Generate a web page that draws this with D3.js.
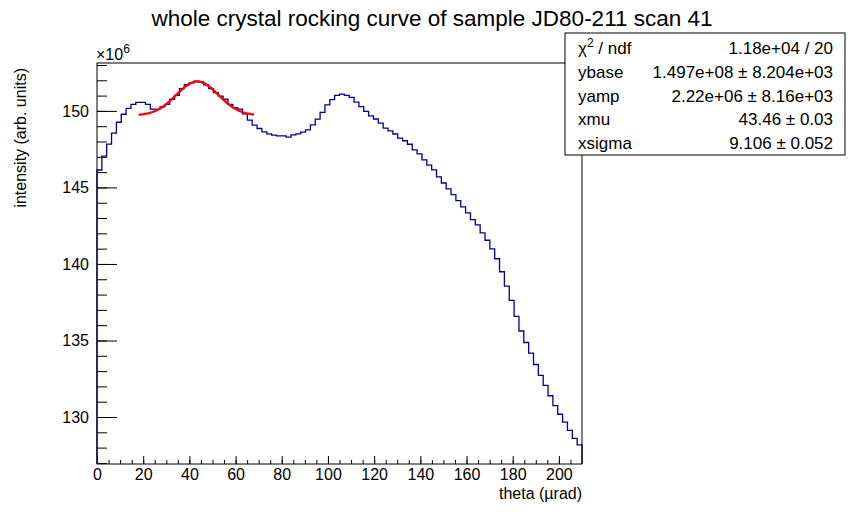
<!DOCTYPE html>
<html><head><meta charset="utf-8">
<script src="https://cdn.jsdelivr.net/npm/d3@7"></script>
<style>
body{margin:0;background:#fff}
text{font-family:"Liberation Sans",Arial,Helvetica,sans-serif;fill:#000}
</style>
</head><body>
<svg id="c" width="862" height="516"></svg>
<script>
// ---------------- data ----------------
const title = "whole crystal rocking curve of sample JD80-211 scan 41";
const xTitle = "theta (\u00b5rad)";
const yTitle = "intensity (arb. units)";
const xRange = [0, 210];           // histogram axis range (µrad)
const yRange = [126.93, 153.13];   // y axis range (×10^6)
// bin contents (×10^6), 100 bins of 2.1 µrad
const counts = [
 146.14,147.05,147.83,148.55,149.26,149.78,150.17,150.43,150.56,150.56,
 150.43,150.11,150.11,150.26,150.43,150.76,151.02,151.45,151.71,151.84,
 151.95,151.89,151.71,151.45,151.19,150.96,150.76,150.43,150.22,150.11,
 149.80,149.40,149.07,148.85,148.63,148.50,148.42,148.37,148.37,148.29,
 148.44,148.50,148.61,148.76,149.09,149.46,149.91,150.39,150.74,151.02,
 151.09,151.02,150.88,150.57,150.28,149.97,149.67,149.47,149.20,148.87,
 148.70,148.49,148.22,148.05,147.82,147.45,147.19,146.80,146.46,146.15,
 145.69,145.29,144.90,144.53,144.14,143.73,143.34,142.90,142.55,142.03,
 141.55,140.99,140.34,139.49,138.55,137.62,136.58,135.62,134.87,134.17,
 133.43,132.72,132.07,131.39,130.74,130.18,129.66,129.13,128.61,128.18
];
const xTicks = [0,20,40,60,80,100,120,140,160,180,200];
const yTicks = [130,135,140,145,150];
// fit: ybase + yamp*exp(-0.5*((x-xmu)/xsigma)^2)  (×10^6)
const fitRange = [18, 68];
const fitParams = {ybase:149.7, yamp:2.22, xmu:43.46, xsigma:9.106};
const statLabels = ["\u03c7", "ybase", "yamp", "xmu", "xsigma"];
const statValues = ["1.18e+04 / 20", "1.497e+08 \u00b1 8.204e+03", "2.22e+06 \u00b1 8.16e+03", "43.46 \u00b1 0.03", "9.106 \u00b1 0.052"];

// ---------------- drawing ----------------
const svg = d3.select("#c");
const L = 97, R = 582, T = 63, B = 464;
const x = d3.scaleLinear().domain(xRange).range([L, R]);
const y = d3.scaleLinear().domain(yRange).range([B, T]);
const nb = counts.length, bw = (xRange[1]-xRange[0])/nb;

svg.append("rect").attr("width",862).attr("height",516).attr("fill","#fff");

// title
svg.append("text").attr("x",432).attr("y",26).attr("text-anchor","middle")
  .style("font-size","22.5px").text(title);

// histogram outline
const pts = [[xRange[0], yRange[0]]];
counts.forEach((c,i)=>{ pts.push([xRange[0]+i*bw, c]); pts.push([xRange[0]+(i+1)*bw, c]); });
pts.push([xRange[1], yRange[0]]);
svg.append("path").attr("d", d3.line().x(d=>x(d[0])).y(d=>y(d[1]))(pts))
  .attr("fill","none").attr("stroke","#000099").attr("stroke-width",1.3);

// fit curve
const f = xx => fitParams.ybase + fitParams.yamp*Math.exp(-0.5*Math.pow((xx-fitParams.xmu)/fitParams.xsigma,2));
const fx = d3.range(0,101).map(k => fitRange[0] + (fitRange[1]-fitRange[0])*k/100);
svg.append("path").attr("d", d3.line().x(d=>x(d)).y(d=>y(f(d)))(fx))
  .attr("fill","none").attr("stroke","#ff0000").attr("stroke-width",2.3);

// axes: ticks inside the frame
const gx = svg.append("g").attr("transform",`translate(0,${B})`);
gx.call(d3.axisBottom(x).tickValues(d3.range(5,210,5)).tickSize(-4).tickFormat(""));
gx.call(g=>g.select(".domain").remove());
const gx2 = svg.append("g").attr("transform",`translate(0,${B})`);
gx2.call(d3.axisBottom(x).tickValues(xTicks).tickSizeInner(-8).tickSizeOuter(0).tickPadding(8).tickFormat(d3.format("d")));
gx2.select(".domain").remove();
gx2.selectAll("text").style("font-size","16px").attr("dy","0.71em").attr("y",5);

const gy = svg.append("g").attr("transform",`translate(${L},0)`);
gy.call(d3.axisLeft(y).tickValues(d3.range(127,154,1)).tickSize(-10).tickFormat(""));
gy.call(g=>g.select(".domain").remove());
const gy2 = svg.append("g").attr("transform",`translate(${L},0)`);
gy2.call(d3.axisLeft(y).tickValues(yTicks).tickSizeInner(-20).tickSizeOuter(0).tickPadding(8).tickFormat(d3.format("d")));
gy2.select(".domain").remove();
gy2.selectAll("text").style("font-size","16px");
svg.selectAll(".tick line").attr("stroke","#000");

// frame
svg.append("rect").attr("x",L).attr("y",T).attr("width",R-L).attr("height",B-T)
  .attr("fill","none").attr("stroke","#000").attr("stroke-width",1);

// axis titles
svg.append("text").attr("x",R).attr("y",499).attr("text-anchor","end")
  .style("font-size","16px").text(xTitle);
svg.append("text").attr("transform","translate(26,68) rotate(-90)").attr("text-anchor","end")
  .style("font-size","16px").text(yTitle);

// ×10^6
const ex = svg.append("text").attr("x",96).attr("y",60).style("font-size","16px");
ex.append("tspan").text("\u00d710");
ex.append("tspan").attr("dy",-7).style("font-size","12px").text("6");

// stats box
const sb = {x:565, y:33, w:280, h:122};
svg.append("rect").attr("x",sb.x).attr("y",sb.y).attr("width",sb.w).attr("height",sb.h)
  .attr("fill","#fff").attr("stroke","#000").attr("stroke-width",1);
statLabels.forEach((lab,i)=>{
  const by = 54 + i*23.75;
  const t = svg.append("text").attr("x",sb.x+13).attr("y",by).style("font-size","17px");
  if (i===0) {
    t.append("tspan").text(lab);
    t.append("tspan").attr("dy",-7).style("font-size","12px").text("2");
    t.append("tspan").attr("dy",7).text(" / ndf");
  } else t.text(lab);
  svg.append("text").attr("x",sb.x+sb.w-12).attr("y",by).attr("text-anchor","end")
    .style("font-size","17px").text(statValues[i]);
});
</script>
</body></html>
